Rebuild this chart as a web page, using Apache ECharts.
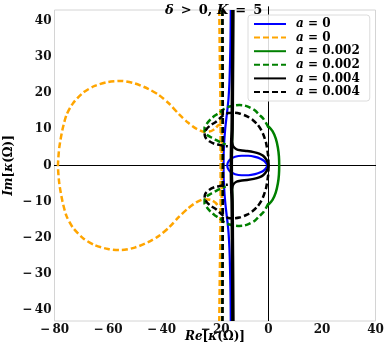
<!DOCTYPE html>
<html><head><meta charset="utf-8">
<script src="https://cdn.jsdelivr.net/npm/echarts@6/dist/echarts.min.js"></script>
<style>html,body{margin:0;padding:0;background:#fff}#c{width:388px;height:346px}</style>
</head><body><div id="c"></div><script>
// ---- data ----
const xTicks = [-80, -60, -40, -20, 0, 20, 40];
const yTicks = [-40, -30, -20, -10, 0, 10, 20, 30, 40];
const legendNames = ['A0s', 'A0d', 'A2s', 'A2d', 'A4s', 'A4d'];
const legendValues = ['0', '0', '0.002', '0.002', '0.004', '0.004'];

const zeroHLine = [[-82, 0], [50, 0]];
const zeroVLine = [[0, -43], [0, 44]];

const blueBranch = [[-14.1,43],[-14.2,35],[-14.4,28],[-14.6,23],[-15.0,18],[-15.6,14],[-16.2,10],[-16.6,6],[-16.8,2],[-16.8,-2],[-16.6,-6],[-16.2,-10],[-15.6,-14],[-15.0,-18],[-14.6,-23],[-14.4,-28],[-14.2,-35],[-14.1,-43]];
const blueOval = [[-0.3,0],[-1.5,1.2],[-3,1.9],[-5,2.4],[-7.5,2.7],[-10,2.7],[-12.5,2.4],[-14.3,1.7],[-15.2,0.8],[-15.4,0],[-15.2,-0.8],[-14.3,-1.7],[-12.5,-2.4],[-10,-2.7],[-7.5,-2.7],[-5,-2.4],[-3,-1.9],[-1.5,-1.2],[-0.3,0]];

const orangeVertical = [[-18.4,43],[-18.2,30],[-18.0,20],[-17.9,10],[-17.9,0],[-17.9,-10],[-18.0,-20],[-18.2,-30],[-18.4,-43]];
const orangeLoop = [[-17.5,-9],[-17.5,9],[-17.8,11],[-18.6,11.2],[-19.8,10.3],[-21.5,9.5],[-24,9.3],[-27,10.2],[-30,11.8],[-33.5,14.2],[-37,17],[-41,19.5],[-45,21.2],[-50,22.7],[-55,23.4],[-60,23.1],[-65,22],[-69,20.3],[-73,17.3],[-75.5,14],[-77,10],[-78.2,5],[-78.7,0],[-78.2,-5],[-77,-10],[-75.5,-14],[-73,-17.3],[-69,-20.3],[-65,-22],[-60,-23.1],[-55,-23.4],[-50,-22.7],[-45,-21.2],[-41,-19.5],[-37,-17],[-33.5,-14.2],[-30,-11.8],[-27,-10.2],[-24,-9.3],[-21.5,-9.5],[-19.8,-10.3],[-18.6,-11.2],[-17.8,-11],[-17.5,-9]];

const greenVertical = [[-13.4,43],[-13.5,20],[-13.6,8],[-13.7,4],[-13.8,0],[-13.7,-4],[-13.6,-8],[-13.5,-20],[-13.4,-43]];
const greenArc = [[0,10.8],[1.5,9.5],[2.7,7.5],[3.5,5],[3.9,2.5],[4,0],[3.9,-2.5],[3.5,-5],[2.7,-7.5],[1.5,-9.5],[0,-10.8]];

const greenDashVertical = [[-17.3,43],[-17.2,20],[-17.1,0],[-17.2,-20],[-17.3,-43]];
const greenDashUpper = [[0,10.5],[-0.9,11.7],[-2,13],[-3.4,14],[-5,15.2],[-7.1,16.1],[-9,16.6],[-10.9,16.7],[-12.5,16.6],[-14.6,16.3],[-16.5,15.7],[-18.3,14.6],[-20,13.8],[-21.6,12.8],[-23,11.6],[-23.9,10.5],[-23.9,9.5],[-23.2,8.6],[-21.5,7.8],[-19.5,7],[-17.5,6.3],[-16,5.8]];
const greenDashLower = [[0,-10.5],[-0.9,-11.7],[-2,-13],[-3.4,-14],[-5,-15.2],[-7.1,-16.1],[-9,-16.6],[-10.9,-16.7],[-12.5,-16.6],[-14.6,-16.3],[-16.5,-15.7],[-18.3,-14.6],[-20,-13.8],[-21.6,-12.8],[-23,-11.6],[-23.9,-10.5],[-23.9,-9.5],[-23.2,-8.6],[-21.5,-7.8],[-19.5,-7],[-17.5,-6.3],[-16,-5.8]];

const blackVertical = [[-13.3,43],[-13.4,30],[-13.5,20],[-13.6,10],[-13.8,6],[-13.9,0],[-13.8,-6],[-13.6,-10],[-13.5,-20],[-13.4,-30],[-13.3,-43]];
const blackHat = [[-13.7,6.5],[-13.2,5.3],[-12,4.5],[-10.5,4.2],[-8,4],[-5.5,3.7],[-3.5,3.3],[-2,2.7],[-0.8,1.6],[0,0],[-0.8,-1.6],[-2,-2.7],[-3.5,-3.3],[-5.5,-3.7],[-8,-4],[-10.5,-4.2],[-12,-4.5],[-13.2,-5.3],[-13.7,-6.5]];

const blackDashVertical = [[-17.2,43],[-17.1,20],[-17.0,0],[-17.1,-20],[-17.2,-43]];
const blackDashUpper = [[0,0],[-0.1,2.5],[-0.9,6.2],[-1.8,8.3],[-2.8,9.9],[-4.2,11.4],[-5.9,12.6],[-8,13.6],[-10.9,14.4],[-13,14.6],[-15,14.5],[-17,13.8],[-19.6,12.1],[-21.5,11.2],[-22.9,10.3],[-23.9,9],[-23.6,7.8],[-22.1,6.7],[-20.2,6],[-18.3,5.7],[-16.5,5.4],[-15.2,5.3]];
const blackDashLower = [[0,0],[-0.1,-2.5],[-0.9,-6.2],[-1.8,-8.3],[-2.8,-9.9],[-4.2,-11.4],[-5.9,-12.6],[-8,-13.6],[-10.9,-14.4],[-13,-14.6],[-15,-14.5],[-17,-13.8],[-19.6,-12.1],[-21.5,-11.2],[-22.9,-10.3],[-23.9,-9],[-23.6,-7.8],[-22.1,-6.7],[-20.2,-6],[-18.3,-5.7],[-16.5,-5.4],[-15.2,-5.3]];

// ---- chart ----
const FONT = 'DejaVu Serif';
function mk(name, data, color, width, dashed, opts) {
  return Object.assign({
    name: name, type: 'line', data: data, showSymbol: false, symbol: 'none',
    smooth: 0.25, animation: false, silent: true,
    lineStyle: { color: color, width: width, type: dashed ? [6, 3] : 'solid' },
    itemStyle: { color: color }
  }, opts || {});
}
const fmtNum = v => (v < 0 ? '\u2212\u2009' + Math.abs(v) : String(v));
const italicRich = size => ({ i: { fontFamily: FONT, fontStyle: 'italic', fontWeight: 'bold', fontSize: size, lineHeight: size, color: '#000' } });

const series = [
  mk('axes0', zeroHLine, '#000', 1, false, { clip: false, smooth: false, z: 1 }),
  mk('axes0', zeroVLine, '#000', 1, false, { clip: false, smooth: false, z: 1 }),
  mk('A0s', blueBranch, '#0000ff', 2.2, false),
  mk('A0s', blueOval, '#0000ff', 2.2, false),
  mk('A0d', orangeVertical, '#ffa500', 2.5, true, { smooth: false }),
  mk('A0d', orangeLoop, '#ffa500', 2.5, true),
  mk('A2s', greenVertical, '#008000', 2.5, false),
  mk('A2s', greenArc, '#008000', 2.5, false),
  mk('A2d', greenDashVertical, '#008000', 2.5, true, { smooth: false }),
  mk('A2d', greenDashUpper, '#008000', 2.5, true),
  mk('A2d', greenDashLower, '#008000', 2.5, true),
  mk('A4s', blackVertical, '#000000', 3.5, false),
  mk('A4s', blackHat, '#000000', 2.5, false),
  mk('A4d', blackDashVertical, '#000000', 2.5, true, { smooth: false }),
  mk('A4d', blackDashUpper, '#000000', 2.5, true),
  mk('A4d', blackDashLower, '#000000', 2.5, true)
];

const option = {
  animation: false,
  backgroundColor: '#ffffff',
  title: {
    text: '{i|\u03b4} \u2009>\u2009 0, {i|K} \u2009=\u2009 5',
    left: 160, top: -1,
    textStyle: {
      fontFamily: FONT, fontWeight: 'bold', fontSize: 13, color: '#000',
      rich: italicRich(13)
    }
  },
  grid: { left: 54.5, right: 12.5, top: 10, bottom: 25, outerBoundsMode: 'none', containLabel: false, show: true, borderColor: '#d4d4d4', borderWidth: 1, backgroundColor: 'transparent' },
  legend: {
    data: legendNames,
    orient: 'vertical',
    left: 248, top: 15,
    padding: [3, 10, 3, 5],
    itemWidth: 32, itemHeight: 11, itemGap: 1.6,
    itemStyle: { opacity: 0 },
    backgroundColor: 'rgba(255,255,255,0.85)',
    borderColor: '#dcdcdc', borderWidth: 1, borderRadius: 3,
    formatter: name => '{i|a} = ' + legendValues[legendNames.indexOf(name)],
    textStyle: {
      fontFamily: FONT, fontWeight: 'bold', fontSize: 12, lineHeight: 11, color: '#000',
      padding: [0, 0, 0, 5],
      rich: italicRich(12)
    }
  },
  xAxis: {
    type: 'value', min: xTicks[0], max: xTicks[xTicks.length - 1], interval: 20,
    axisLine: { show: false }, axisTick: { show: false }, splitLine: { show: false },
    axisLabel: { fontFamily: FONT, fontWeight: 'bold', fontSize: 12, color: '#111', margin: 3, formatter: fmtNum },
    name: '{i|Re}[{i|\u03ba}(\u03a9)]', nameLocation: 'middle', nameGap: 10, nameMoveOverlap: false,
    nameTextStyle: { fontFamily: FONT, fontWeight: 'bold', fontSize: 12, color: '#000', rich: italicRich(12) }
  },
  yAxis: {
    type: 'value', min: -43, max: 43,
    axisLine: { show: false }, axisTick: { show: false }, splitLine: { show: false },
    axisLabel: { customValues: yTicks, fontFamily: FONT, fontWeight: 'bold', fontSize: 12, color: '#111', margin: 3, formatter: fmtNum },
    name: '{i|Im}[{i|\u03ba}(\u03a9)]', nameLocation: 'middle', nameGap: 40, nameRotate: 90, nameMoveOverlap: false,
    nameTextStyle: { fontFamily: FONT, fontWeight: 'bold', fontSize: 12, color: '#000', rich: italicRich(12) }
  },
  series: series
};
const chart = echarts.init(document.getElementById('c'));
chart.setOption(option);
</script></body></html>
